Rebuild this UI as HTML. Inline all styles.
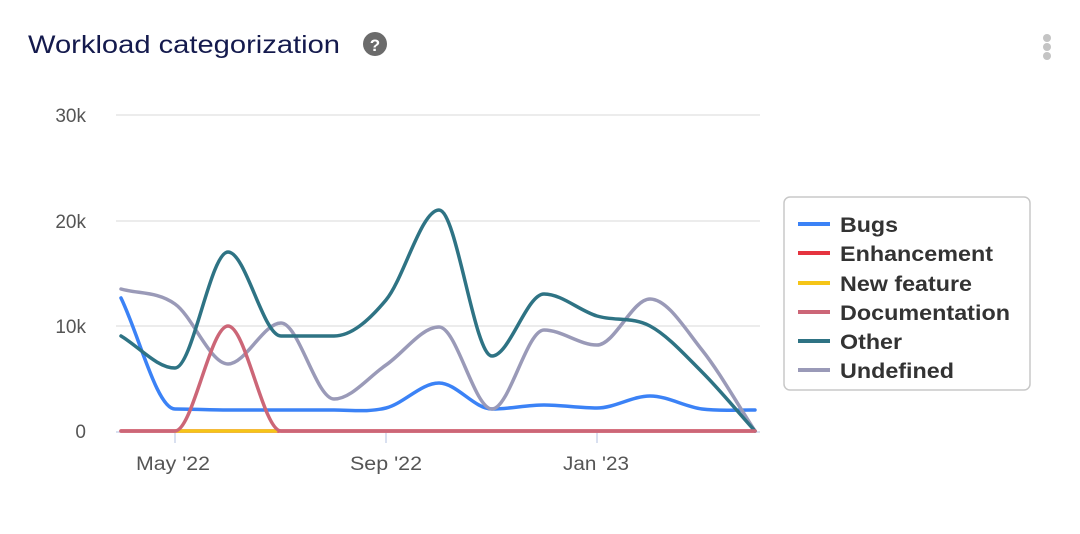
<!DOCTYPE html>
<html><head><meta charset="utf-8"><style>
body{margin:0;background:#fff;width:1080px;height:529px;overflow:hidden;font-family:"Liberation Sans",sans-serif}
</style></head><body>
<svg id="s" width="1080" height="529" xmlns="http://www.w3.org/2000/svg" font-family="Liberation Sans, sans-serif">
<text x="28" y="53" font-size="25" fill="#141a4d" textLength="312" lengthAdjust="spacingAndGlyphs">Workload categorization</text>
<circle cx="375" cy="44" r="12" fill="#6b6b6b"/><text x="375" y="51" font-size="17" font-weight="bold" fill="#fff" text-anchor="middle">?</text>
<circle cx="1047" cy="38" r="4" fill="#c4c4c4"/><circle cx="1047" cy="47" r="4" fill="#c4c4c4"/><circle cx="1047" cy="56" r="4" fill="#c4c4c4"/>
<g stroke="#e6e6e6" stroke-width="1.5"><line x1="116" x2="760" y1="115" y2="115"/><line x1="116" x2="760" y1="221" y2="221"/><line x1="116" x2="760" y1="326" y2="326"/></g>
<line x1="116" x2="760" y1="432" y2="432" stroke="#ccd6eb" stroke-width="1.5"/>
<g stroke="#ccd6eb" stroke-width="1.5"><line x1="175" x2="175" y1="432" y2="443"/><line x1="386" x2="386" y1="432" y2="443"/><line x1="597" x2="597" y1="432" y2="443"/></g>
<g font-size="19" fill="#555" text-anchor="end"><text x="86" y="122">30k</text><text x="86" y="228">20k</text><text x="86" y="333">10k</text><text x="86" y="438">0</text></g>
<g font-size="19" fill="#555" text-anchor="middle"><text x="173" y="470" textLength="74" lengthAdjust="spacingAndGlyphs">May '22</text><text x="386" y="470" textLength="72" lengthAdjust="spacingAndGlyphs">Sep '22</text><text x="596" y="470" textLength="66" lengthAdjust="spacingAndGlyphs">Jan '23</text></g>
<g id="lines" fill="none" stroke-width="3.5" stroke-linecap="round"></g>
<rect x="784" y="197" width="246" height="193" rx="6" fill="#fff" stroke="#c8c8c8" stroke-width="1.5"/>
<g font-size="21" font-weight="bold" fill="#333">
<line x1="798" x2="830" y1="224" y2="224" stroke="#3b82f6" stroke-width="4"/><text x="840" y="232" textLength="58" lengthAdjust="spacingAndGlyphs">Bugs</text>
<line x1="798" x2="830" y1="253" y2="253" stroke="#e5343f" stroke-width="4"/><text x="840" y="261" textLength="153" lengthAdjust="spacingAndGlyphs">Enhancement</text>
<line x1="798" x2="830" y1="283" y2="283" stroke="#f5c518" stroke-width="4"/><text x="840" y="291" textLength="132" lengthAdjust="spacingAndGlyphs">New feature</text>
<line x1="798" x2="830" y1="312" y2="312" stroke="#cc6677" stroke-width="4"/><text x="840" y="320" textLength="170" lengthAdjust="spacingAndGlyphs">Documentation</text>
<line x1="798" x2="830" y1="341" y2="341" stroke="#2e7384" stroke-width="4"/><text x="840" y="349" textLength="62" lengthAdjust="spacingAndGlyphs">Other</text>
<line x1="798" x2="830" y1="370" y2="370" stroke="#9a9ab8" stroke-width="4"/><text x="840" y="378" textLength="114" lengthAdjust="spacingAndGlyphs">Undefined</text>
</g>
</svg>
<script>
var X=[121,175,228,281,334,386,439,492,544,597,650,702,755];
var S=[
["#e5343f",[431,431,431,431,431,431,431,431,431,431,431,431,431]],
["#3b82f6",[298,409,410,410,410,408,383,409,405,408,396,409,410],[1]],
["#9a9ab8",[289,304,364,323,399,365,327,409,330,345,299,350,431]],
["#2e7384",[336,368,252,336,336,300,210,356,294,316,326,372,431]],
["#cc6677",[431,431,326,431,431,431,431,431,431,431,431,431,431]]];
var g=document.getElementById('lines');
function mono(X,Y,z){var n=X.length,dl=[],m=[];
for(var i=0;i<n-1;i++)dl.push((Y[i+1]-Y[i])/(X[i+1]-X[i]));
m[0]=dl[0];m[n-1]=dl[n-2];
for(var i=1;i<n-1;i++){m[i]=(dl[i-1]*dl[i]<=0)?0:(dl[i-1]+dl[i])/2;}
for(var i=0;i<n-1;i++){if(dl[i]==0){m[i]=0;m[i+1]=0;}}
(z||[]).forEach(function(k){m[k]=0;});
var d='M'+X[0]+','+Y[0];
for(var i=0;i<n-1;i++){var h=(X[i+1]-X[i])/3;
d+=' C'+(X[i]+h)+','+(Y[i]+m[i]*h)+' '+(X[i+1]-h)+','+(Y[i+1]-m[i+1]*h)+' '+X[i+1]+','+Y[i+1];}
return d;}
S.forEach(function(s,k){var p=document.createElementNS('http://www.w3.org/2000/svg','path');p.setAttribute('d',mono(X,s[1],s[2]));p.setAttribute('stroke',s[0]);g.appendChild(p);
if(k==0){var y=document.createElementNS('http://www.w3.org/2000/svg','path');y.setAttribute('d','M175,431 L276,431');y.setAttribute('stroke','#f5c518');g.appendChild(y);}});
</script>
</body></html>
